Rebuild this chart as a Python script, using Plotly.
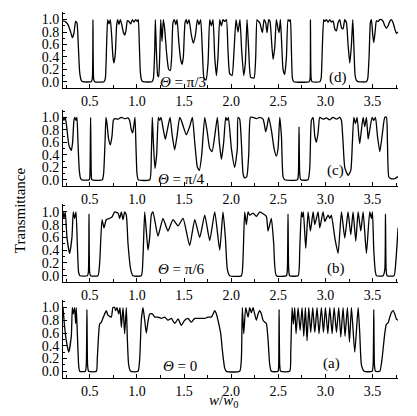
import plotly.graph_objects as go

# ---- data (w/w0, transmittance) ----
d_x = [0.215,0.239,0.268,0.296,0.314,0.331,0.349,0.363,0.377,0.392,0.409,0.423,0.515,0.526,0.533,0.540,0.551,
       0.650,0.664,0.678,0.689,0.703,0.717,0.731,0.745,0.756,0.770,0.784,0.795,0.809,0.823,0.837,0.855,0.869,0.883,
       0.898,0.915,0.933,0.951,0.968,0.986,1.004,1.014,1.025,1.036,1.050,1.064,1.160,1.174,1.188,1.195,1.206,1.220,
       1.230,1.241,1.252,1.266,1.280,1.294,1.315,1.336,1.354,1.368,1.382,1.397,1.411,1.425,1.446,1.464,1.478,1.492,
       1.510,1.524,1.535,1.552,1.577,1.598,1.620,1.641,1.659,1.676,1.694,1.712,1.733,1.754,1.772,1.789,1.807,1.825,
       1.843,1.860,1.878,1.896,1.913,1.931,1.949,1.966,1.984,2.009,2.030,2.051,2.072,2.093,2.111,2.133,2.150,2.168,
       2.186,2.207,2.242,2.260,2.274,2.289,2.303,2.320,2.331,2.349,2.366,2.380,2.398,2.412,2.426,2.444,2.462,2.479,
       2.497,2.508,2.522,2.536,2.550,2.568,2.586,2.603,2.617,2.628,2.639,2.650,2.664,2.827,2.837,2.841,2.848,2.858,
       2.940,2.954,2.968,2.982,2.993,3.010,3.028,3.046,3.063,3.081,3.099,3.117,3.134,3.152,3.170,3.187,3.205,3.223,
       3.240,3.258,3.276,3.290,3.301,3.315,3.329,3.347,3.435,3.449,3.463,3.477,3.488,3.502,3.513,3.527,3.541,3.559,
       3.577,3.594,3.612,3.630,3.647,3.665,3.683,3.700,3.718,3.736,3.753,3.771]
d_t = [0.98,0.97,0.92,0.80,0.71,0.78,0.97,0.95,0.60,0.15,0.02,0.00,0.00,0.05,1.00,0.05,0.00,
       0.00,0.05,0.60,1.00,0.93,1.00,0.75,0.40,0.30,0.45,0.90,1.00,0.92,1.00,0.93,0.80,0.75,0.82,
       0.98,0.97,0.93,1.00,0.96,1.00,0.97,1.00,0.60,0.15,0.02,0.00,0.00,0.05,0.50,1.00,0.50,0.10,
       0.08,0.40,1.00,0.65,1.00,0.85,0.45,0.20,0.18,0.40,0.95,1.00,0.92,1.00,0.60,0.35,0.28,0.40,
       0.95,1.00,0.93,1.00,0.75,0.62,0.75,1.00,0.92,1.00,0.50,0.05,0.03,0.30,1.00,0.90,1.00,0.40,
       0.10,0.40,1.00,0.90,1.00,0.97,1.00,0.50,0.13,0.10,0.50,1.00,0.80,1.00,0.50,0.10,0.30,1.00,
       0.50,0.07,0.06,0.40,1.00,0.97,0.95,0.85,0.79,1.00,0.95,0.79,1.00,0.97,0.70,0.36,0.55,1.00,
       0.85,0.79,1.00,0.60,0.20,0.12,0.40,1.00,0.97,1.00,0.50,0.05,0.00,0.00,0.05,1.00,0.05,0.00,
       0.00,0.05,0.60,1.00,0.97,1.00,0.96,1.00,0.96,0.98,0.85,0.82,0.95,1.00,0.87,0.85,1.00,0.95,
       0.60,0.30,0.60,1.00,0.60,0.10,0.02,0.00,0.00,0.05,0.40,0.95,1.00,0.75,0.63,0.80,0.98,0.97,
       1.00,1.00,0.97,0.90,0.86,0.90,0.97,1.00,0.95,0.85,0.78,0.80]

c_x = [0.215,0.225,0.239,0.254,0.278,0.303,0.317,0.331,0.342,0.353,0.363,0.374,0.388,0.402,0.416,0.494,0.501,
       0.508,0.515,0.522,0.632,0.646,0.661,0.671,0.682,0.699,0.717,0.735,0.749,0.763,0.799,0.834,0.869,0.905,0.922,
       0.940,0.954,0.965,0.979,0.990,1.000,1.014,1.135,1.152,1.163,1.174,1.191,1.209,1.227,1.241,1.255,1.280,1.301,
       1.322,1.351,1.375,1.400,1.425,1.453,1.471,1.492,1.524,1.559,1.588,1.613,1.641,1.662,1.687,1.719,1.747,1.772,
       1.797,1.825,1.853,1.874,1.896,1.920,1.942,1.956,1.970,2.002,2.037,2.065,2.072,2.090,2.108,2.126,2.143,2.165,
       2.186,2.204,2.232,2.267,2.303,2.338,2.356,2.366,2.380,2.398,2.426,2.455,2.479,2.497,2.515,2.533,2.550,2.568,
       2.703,2.713,2.720,2.727,2.738,2.816,2.834,2.851,2.869,2.887,2.904,2.922,2.940,2.975,3.010,3.046,3.081,3.117,
       3.152,3.170,3.187,3.205,3.240,3.269,3.286,3.301,3.318,3.336,3.354,3.364,3.382,3.400,3.417,3.435,3.453,3.470,
       3.495,3.513,3.531,3.552,3.577,3.601,3.630,3.647,3.658,3.672,3.693,3.736,3.771]
c_t = [1.00,0.95,1.00,0.85,0.55,0.47,0.60,0.95,1.00,0.95,1.00,0.60,0.15,0.02,0.00,0.00,0.10,
       1.00,0.10,0.00,0.00,0.10,0.60,1.00,0.90,0.65,0.56,0.70,0.95,0.98,0.97,1.00,0.98,0.99,0.95,
       0.80,0.75,0.85,1.00,0.50,0.10,0.00,0.00,0.40,1.00,0.60,0.18,0.40,1.00,0.95,1.00,0.80,0.65,
       0.80,1.00,0.70,0.48,0.70,1.00,0.95,0.85,0.72,0.85,1.00,0.60,0.20,0.15,0.40,1.00,0.75,0.50,
       0.45,0.70,1.00,0.60,0.33,0.60,1.00,0.95,1.00,0.50,0.20,0.50,1.00,0.97,0.60,0.10,0.03,0.05,
       0.40,1.00,1.00,0.98,1.00,0.97,0.85,0.77,0.85,1.00,0.80,0.50,0.38,0.50,1.00,0.70,0.05,0.00,
       0.00,0.10,0.85,0.10,0.00,0.00,0.20,0.95,1.00,0.70,0.60,0.75,1.00,0.97,0.99,0.96,1.00,0.97,
       1.00,0.95,0.60,0.20,0.07,0.15,0.60,1.00,0.90,1.00,0.70,0.58,0.80,1.00,0.85,1.00,0.65,0.80,
       1.00,0.95,1.00,0.70,0.45,0.70,1.00,1.00,0.60,0.05,0.02,0.02,0.05]

b_x = [0.215,0.225,0.239,0.257,0.285,0.310,0.324,0.338,0.353,0.367,0.381,0.395,0.473,0.484,0.491,0.498,0.508,
       0.586,0.604,0.629,0.650,0.675,0.710,0.735,0.763,0.799,0.816,0.834,0.852,0.869,0.887,0.905,0.933,0.958,
       1.046,1.064,1.082,1.099,1.117,1.135,1.152,1.170,1.223,1.276,1.329,1.382,1.436,1.489,1.559,1.613,1.666,
       1.719,1.772,1.825,1.878,1.913,1.938,1.959,1.984,2.108,2.126,2.143,2.161,2.179,2.196,2.232,2.267,2.303,
       2.338,2.373,2.391,2.426,2.451,2.479,2.586,2.596,2.603,2.610,2.621,2.710,2.727,2.745,2.755,2.766,2.791,
       2.816,2.841,2.869,2.887,2.922,2.940,2.975,2.993,3.028,3.046,3.063,3.099,3.134,3.170,3.205,3.240,3.269,
       3.293,3.322,3.347,3.375,3.400,3.435,3.470,3.488,3.499,3.513,3.531,3.541,3.612,3.630,3.637,3.644,3.654,
       3.728,3.746,3.771]
b_t = [1.00,0.90,1.00,0.60,0.35,0.60,1.00,0.90,1.00,0.50,0.05,0.00,0.00,0.05,0.97,0.05,0.00,
       0.00,0.20,0.88,0.75,0.88,0.90,0.92,1.00,0.98,0.90,1.00,0.88,1.00,0.95,0.50,0.10,0.00,
       0.00,0.30,1.00,0.70,0.40,0.60,0.95,1.00,0.62,0.90,0.70,0.88,0.78,0.90,0.47,0.88,0.60,
       0.95,0.55,1.00,0.40,1.00,0.60,0.10,0.00,0.00,0.30,1.00,0.80,1.00,0.95,0.98,0.93,1.00,
       0.97,0.93,0.70,0.90,0.50,0.00,0.00,0.10,0.97,0.10,0.00,0.00,0.40,1.00,0.92,1.00,0.43,
       1.00,0.70,1.00,0.80,1.00,0.75,1.00,0.85,0.95,0.90,0.95,0.60,0.35,1.00,0.59,1.00,0.64,
       1.00,0.54,1.00,0.70,1.00,0.35,1.00,0.90,1.00,0.40,0.05,0.00,0.00,0.10,0.97,0.10,0.00,
       0.00,0.20,0.75]

a_x = [0.215,0.232,0.250,0.275,0.303,0.314,0.324,0.338,0.349,0.356,0.367,0.381,0.392,0.452,0.462,0.469,0.476,
       0.487,0.569,0.579,0.604,0.622,0.657,0.675,0.692,0.728,0.745,0.763,0.774,0.788,0.806,0.820,0.834,0.852,
       0.869,0.887,0.898,0.912,0.933,1.011,1.029,1.046,1.064,1.082,1.099,1.117,1.135,1.163,1.188,1.223,1.259,
       1.294,1.329,1.365,1.400,1.436,1.471,1.506,1.542,1.577,1.613,1.648,1.683,1.719,1.754,1.789,1.825,1.843,
       1.860,1.889,1.906,1.931,1.949,2.090,2.108,2.118,2.133,2.154,2.179,2.196,2.214,2.232,2.249,2.267,2.285,
       2.303,2.320,2.338,2.356,2.373,2.391,2.409,2.426,2.497,2.504,2.508,2.515,2.525,2.621,2.632,2.646,2.660,
       2.674,2.688,2.710,2.731,2.752,2.770,2.787,2.805,2.823,2.844,2.865,2.887,2.911,2.932,2.957,2.979,3.000,
       3.025,3.046,3.071,3.092,3.117,3.141,3.163,3.187,3.208,3.233,3.255,3.276,3.311,3.347,3.364,3.382,3.410,
       3.495,3.506,3.513,3.520,3.531,3.577,3.601,3.630,3.647,3.665,3.683,3.700,3.718,3.736,3.753,3.771]
a_t = [1.00,0.70,0.48,0.30,0.55,1.00,0.90,1.00,0.75,1.00,0.60,0.10,0.00,0.00,0.10,0.97,0.10,
       0.00,0.00,0.20,0.74,0.77,0.90,0.95,0.88,0.85,1.00,1.00,0.95,1.00,0.90,1.00,0.69,1.00,
       0.59,1.00,0.50,0.10,0.00,0.00,0.20,0.80,1.00,0.80,0.60,0.78,0.90,0.90,0.85,0.85,0.83,
       0.85,0.80,0.83,0.75,0.82,0.72,0.80,0.83,0.77,0.83,0.83,0.83,0.83,0.85,0.85,0.95,0.90,
       0.80,0.59,0.33,0.05,0.00,0.00,0.20,1.00,0.59,1.00,0.85,1.00,0.92,1.00,0.90,0.80,0.90,
       0.95,0.90,0.80,0.77,0.75,0.50,0.10,0.00,0.00,0.10,0.97,0.10,0.00,0.00,0.30,1.00,0.74,
       1.00,0.59,1.00,0.64,1.00,0.55,1.00,0.48,1.00,0.61,1.00,0.61,1.00,0.59,1.00,0.61,1.00,
       0.59,1.00,0.59,1.00,0.61,1.00,0.54,1.00,0.55,1.00,0.46,1.00,0.30,1.00,0.60,0.10,0.00,
       0.00,0.10,0.97,0.10,0.00,0.00,0.20,0.60,0.74,0.76,0.85,0.92,0.95,0.90,0.82,0.80]

panels = [  # (x, T, label, theta text, theta pos, label pos, y domain)
    (a_x, a_t, "(a)", "<i>Θ</i> = 0",   (1.46, 0.09), (3.06, 0.13), [0.107, 0.295]),
    (b_x, b_t, "(b)", "<i>Θ</i> = π/6", (1.47, 0.11), (3.11, 0.11), [0.338, 0.526]),
    (c_x, c_t, "(c)", "<i>Θ</i> = π/4", (1.47, 0.02), (3.11, 0.15), [0.570, 0.754]),
    (d_x, d_t, "(d)", "<i>Θ</i> = π/3", (1.49, 0.00), (3.13, 0.06), [0.807, 0.990]),
]

x_ticks = [0.5, 1.0, 1.5, 2.0, 2.5, 3.0, 3.5]
x_minor = [0.25, 0.75, 1.25, 1.75, 2.25, 2.75, 3.25, 3.75]
y_ticks = [0.0, 0.2, 0.4, 0.6, 0.8, 1.0]
y_minor = [0.1, 0.3, 0.5, 0.7, 0.9, 1.1]

FONT = "Liberation Serif"
TICKFONT = dict(family=FONT, size=14, color="black")
fig = go.Figure()
layout = dict(width=417, height=416, autosize=False, showlegend=False,
              margin=dict(l=55, r=27, t=0, b=0),
              paper_bgcolor="white", plot_bgcolor="white",
              font=dict(family=FONT, size=14, color="black"))
annotations = []
for i, (xs, ts, lab, th, thpos, labpos, dom) in enumerate(panels):
    n = "" if i == 0 else str(i + 1)
    fig.add_trace(go.Scatter(x=xs, y=ts, mode="lines", xaxis="x" + n, yaxis="y" + n,
                             line=dict(color="black", width=1.3, shape="spline", smoothing=0.5),
                             hoverinfo="skip"))
    layout["xaxis" + n] = dict(domain=[0, 1], anchor="y" + n, range=[0.215, 3.77],
                               showline=True, linecolor="black", linewidth=1, mirror=False,
                               showgrid=False, zeroline=False, ticks="inside", ticklen=4,
                               tickcolor="black", tickvals=x_ticks, ticktext=[f"{v:.1f}" for v in x_ticks],
                               tickfont=TICKFONT,
                               minor=dict(tickvals=x_minor, ticks="inside", ticklen=3, tickcolor="black"))
    layout["yaxis" + n] = dict(domain=dom, anchor="x" + n, range=[-0.1, 1.12],
                               showline=True, linecolor="black", linewidth=1, mirror=False,
                               showgrid=False, zeroline=False, ticks="inside", ticklen=4,
                               tickcolor="black", tickvals=y_ticks, ticktext=[f"{v:.1f}" for v in y_ticks],
                               tickfont=TICKFONT,
                               minor=dict(tickvals=y_minor, ticks="inside", ticklen=2, tickcolor="black"))
    annotations.append(dict(x=thpos[0], y=thpos[1], xref="x" + n, yref="y" + n, text=th,
                            showarrow=False, font=dict(family=FONT, size=15, color="black")))
    annotations.append(dict(x=labpos[0], y=labpos[1], xref="x" + n, yref="y" + n, text=lab,
                            showarrow=False, font=dict(family=FONT, size=15, color="black")))

annotations.append(dict(x=0.48, y=0.0, xref="paper", yref="paper", xanchor="center", yanchor="bottom",
                        text="<i>w</i>/<i>w</i><sub>0</sub>", showarrow=False, yshift=10,
                        font=dict(family=FONT, size=15, color="black")))
annotations.append(dict(x=-0.128, y=0.512, xref="paper", yref="paper", xanchor="center",
                        yanchor="middle", text="Transmittance",
                        textangle=-90, showarrow=False, font=dict(family=FONT, size=15, color="black")))
layout["annotations"] = annotations
fig.update_layout(**layout)
fig.write_html("out.html")
